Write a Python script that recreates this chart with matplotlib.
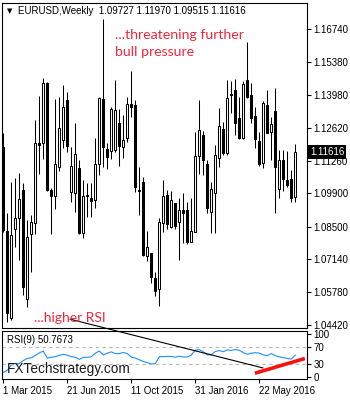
import numpy as np
import matplotlib.pyplot as plt
from matplotlib.transforms import blended_transform_factory

# weekly EURUSD candles, week of 1 Mar 2015 .. end of Jul 2016
opens = [1.1184, 1.0834, 1.0469, 1.0840, 1.0886, 1.1004, 1.0548, 1.0819, 1.0865, 1.1200,
         1.1198, 1.1451, 1.1004, 1.0980, 1.1098, 1.1212, 1.1378, 1.0996, 1.0990, 1.1094,
         1.0826, 1.0980, 1.0971, 1.0962, 1.1112, 1.1381, 1.1173, 1.1167, 1.1170, 1.1281,
         1.1184, 1.1219, 1.1362, 1.1358, 1.1004, 1.1036, 1.0729, 1.0740, 1.0638, 1.0590,
         1.0867, 1.0983, 1.0851, 1.0948, 1.0871, 1.0920, 1.0920, 1.0788, 1.0830, 1.1145,
         1.1233, 1.1112, 1.0913, 1.0990, 1.1136, 1.1256, 1.1156, 1.1403, 1.1420, 1.1302,
         1.1219, 1.1462, 1.1399, 1.1312, 1.1208, 1.1115, 1.1358, 1.1246, 1.1334, 1.1006,
         1.1128, 1.1045, 1.1048, 1.09727]
highs = [1.1240, 1.0906, 1.1038, 1.1052, 1.1073, 1.1034, 1.0879, 1.0899, 1.1295, 1.1395,
         1.1469, 1.1455, 1.1011, 1.1383, 1.1392, 1.1441, 1.1413, 1.1184, 1.1281, 1.1128,
         1.1045, 1.1031, 1.1031, 1.1219, 1.1390, 1.1715, 1.1198, 1.1351, 1.1462, 1.1340,
         1.1316, 1.1390, 1.1501, 1.1378, 1.1101, 1.1059, 1.0833, 1.0742, 1.0663, 1.0886,
         1.1045, 1.1004, 1.1001, 1.0951, 1.0970, 1.0990, 1.0955, 1.0969, 1.1246, 1.1378,
         1.1251, 1.1128, 1.1038, 1.1191, 1.1344, 1.1288, 1.1462, 1.1459, 1.1465, 1.1392,
         1.1458, 1.1621, 1.1448, 1.1351, 1.1246, 1.1374, 1.1420, 1.1309, 1.1427, 1.1170,
         1.1170, 1.1166, 1.1087, 1.11970]
lows = [1.0830, 1.0455, 1.0463, 1.0767, 1.0712, 1.0566, 1.0517, 1.0661, 1.0820, 1.1069,
        1.1131, 1.1000, 1.0819, 1.0923, 1.1083, 1.1177, 1.1163, 1.0955, 1.0913, 1.0820,
        1.0802, 1.0892, 1.0892, 1.0927, 1.1066, 1.1101, 1.1090, 1.1131, 1.1163, 1.1105,
        1.1136, 1.1205, 1.1309, 1.0996, 1.0899, 1.0728, 1.0709, 1.0615, 1.0562, 1.0520,
        1.0830, 1.0840, 1.0844, 1.0840, 1.0712, 1.0781, 1.0778, 1.0785, 1.0827, 1.1070,
        1.1066, 1.0906, 1.0826, 1.0823, 1.1101, 1.1149, 1.1149, 1.1323, 1.1233, 1.1216,
        1.1215, 1.1386, 1.1284, 1.1180, 1.1103, 1.1096, 1.1240, 1.1128, 1.0909, 1.0971,
        1.1001, 1.1015, 1.0955, 1.09515]
closes = [1.0837, 1.0492, 1.0816, 1.0886, 1.0965, 1.0601, 1.0806, 1.0869, 1.1198, 1.1192,
          1.1448, 1.1004, 1.0980, 1.1111, 1.1261, 1.1348, 1.1187, 1.1103, 1.1152, 1.0826,
          1.0979, 1.0984, 1.0959, 1.1112, 1.1386, 1.1184, 1.1142, 1.1340, 1.1337, 1.1187,
          1.1212, 1.1362, 1.1348, 1.1017, 1.0999, 1.0733, 1.0767, 1.0642, 1.0584, 1.0869,
          1.0979, 1.0862, 1.0962, 1.0854, 1.0920, 1.0906, 1.0788, 1.0833, 1.1145, 1.1253,
          1.1128, 1.0927, 1.1006, 1.1149, 1.1270, 1.1159, 1.1386, 1.1398, 1.1281, 1.1219,
          1.1444, 1.1390, 1.1305, 1.1215, 1.1112, 1.1365, 1.1242, 1.1278, 1.1098, 1.1128,
          1.1048, 1.1024, 1.0969, 1.11616]

# RSI(9)
rsi = [11.3, 16.2, 28.3, 31.9, 31.7, 38.4, 43.5, 44.6, 50.3, 55.9,
       60.2, 43.9, 46.1, 47.5, 50.5, 52.6, 50.7, 47.5, 46.0, 41.2,
       45.8, 46.0, 47.2, 55.2, 60.2, 51.1, 55.4, 58.3, 54.4, 54.4,
       56.9, 54.5, 46.3, 44.1, 40.2, 36.4, 33.9, 30.8, 31.3, 47.3,
       47.3, 48.0, 48.0, 46.0, 48.4, 46.7, 46.5, 51.3, 62.6, 63.5,
       58.6, 51.4, 51.8, 59.2, 61.4, 58.6, 62.8, 61.6, 63.8, 61.9,
       56.6, 52.9, 55.3, 56.5, 55.4, 51.6, 49.5, 54.6, 49.5, 46.9,
       45.2, 43.1, 42.0, 50.77]

price_ticks = [1.16740, 1.15380, 1.13980, 1.12620, 1.11260, 1.09900,
               1.08500, 1.07140, 1.05780, 1.04420]
rsi_ticks = [100, 70, 30, 0]
date_idx = [0, 16, 32, 48, 64]
date_labels = ['1 Mar 2015', '21 Jun 2015', '11 Oct 2015', '31 Jan 2016', '22 May 2016']

# hand drawn lines (candle index, rsi value)
trend_x = [16.7, 64.9]
trend_y = [133, 21.6]
red_x = [62.9, 75.4]
red_y = [9.5, 43.2]

plt.rcParams['font.family'] = ['Liberation Sans', 'DejaVu Sans']

o = np.array(opens)
h = np.array(highs)
l = np.array(lows)
c = np.array(closes)
x = np.arange(len(c))
up = c >= o

fig = plt.figure(figsize=(3.5, 4.0), dpi=100)
ax = fig.add_axes([0.0066, 0.1808, 0.8697, 0.8125])
ax2 = fig.add_axes([0.0066, 0.05325, 0.8697, 0.11925])

#candles
ax.vlines(x, l, h, color='black', lw=0.75, zorder=1)
body_bot = np.minimum(o, c)
body_h = np.maximum(np.abs(c - o), 0.00025)
ax.bar(x, body_h, bottom=body_bot, width=0.55,
       color=np.where(up, 'white', 'black'), edgecolor='black', linewidth=0.75, zorder=2)

ax.set_xlim(-0.25, 75.85)
ax.set_ylim(1.04298, 1.17838)
ax.set_xticks([])
ax.yaxis.tick_right()
ax.set_yticks(price_ticks)
ax.set_yticklabels(['%.5f' % t for t in price_ticks])
ax.tick_params(axis='y', direction='out', length=3, width=0.8, pad=2, labelsize=7)
for s in ax.spines.values():
    s.set_linewidth(0.8)

trans = blended_transform_factory(ax.transAxes, ax.transData)
ax.text(1.011, c[-1], '%.5f' % c[-1], transform=trans, va='center', ha='left',
        color='white', fontsize=7, bbox=dict(facecolor='black', edgecolor='none', pad=1.2))

#rsi panel
ax2.plot(x, rsi, color='#1E90FF', lw=0.8)
for lev in (70, 30):
    ax2.axhline(lev, color='#B8B8B8', lw=0.8, ls=(0, (3, 3)))
ax2.set_xlim(-0.25, 75.85)
ax2.set_ylim(-3, 106)
ax2.yaxis.tick_right()
ax2.set_yticks(rsi_ticks)
ax2.set_yticklabels([str(t) for t in rsi_ticks])
ax2.tick_params(axis='y', direction='out', length=3, width=0.8, pad=2, labelsize=7)
ax2.set_xticks(date_idx)
ax2.set_xticklabels(date_labels)
for lab in ax2.get_xticklabels():
    lab.set_ha('left')
ax2.tick_params(axis='x', direction='out', length=3, width=0.8, pad=2, labelsize=7)
for s in ax2.spines.values():
    s.set_linewidth(0.8)

ax2.plot(trend_x, trend_y, color='black', lw=0.8, clip_on=False, zorder=5)
ax2.plot(red_x, red_y, color='#FF1010', lw=2.6, solid_capstyle='butt', zorder=6)

#texts
fig.text(7 / 350, 1 - 11 / 400, '\u25bc', fontsize=5, va='center', family='DejaVu Sans')
fig.text(18 / 350, 1 - 11 / 400, 'EURUSD,Weekly  1.09727 1.11970 1.09515 1.11616',
         fontsize=7, va='center')
fig.text(115 / 350, 1 - 39 / 400, '...threatening further', fontsize=10.2, va='baseline',
         color='#F0283C', family='Lato')
fig.text(115 / 350, 1 - 56 / 400, 'bull pressure', fontsize=10.2, va='baseline',
         color='#F0283C', family='Lato')
fig.text(34 / 350, 1 - 322 / 400, '...higher RSI', fontsize=10, va='baseline',
         color='#F0283C', family='Lato')
fig.text(7.3 / 350, 1 - 340 / 400, 'RSI(9) 50.7673', fontsize=7, va='center')
fig.text(6.5 / 350, 1 - 369 / 400, 'FXTechstrategy.com', fontsize=9.8, va='center',
         color='#1c1c1c')

fig.savefig('out.png', dpi=100, facecolor='white')
